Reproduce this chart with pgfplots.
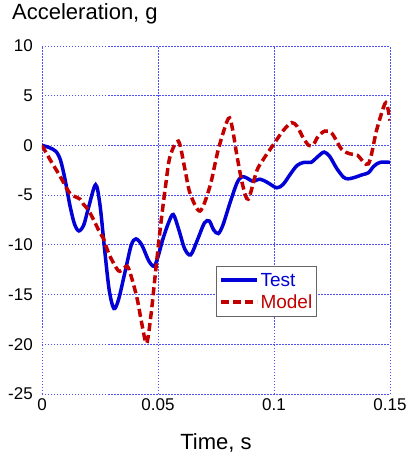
\documentclass[border=0pt]{standalone}
\usepackage{fontspec}
\setmainfont{Liberation Sans}
\usepackage{pgfplots}
\pgfplotsset{compat=1.18}

\definecolor{testblue}{RGB}{0,0,215}
\definecolor{modelred}{RGB}{195,0,0}
\definecolor{gridblue}{RGB}{80,80,245}

\begin{document}
\begin{tikzpicture}
\path[use as bounding box] (-42pt,-61pt) rectangle (365pt,394pt);
\begin{axis}[
    scale only axis,
    width=348pt, height=348pt,
    xmin=0, xmax=0.15, ymin=-25, ymax=10,
    xtick={0,0.05,0.1,0.15},
    ytick={-25,-20,...,10},
    scaled x ticks=false,
    axis line style={draw=none},
    major tick length=0pt,
    grid=major,
    major grid style={gridblue, line width=0.8pt, dash pattern=on 1.5pt off 1.5pt},
    /pgf/number format/assume math mode=true,
    ticklabel style={font=\fontsize{17}{20}\selectfont},
    xticklabel style={/pgf/number format/fixed, /pgf/number format/precision=2,
        inner sep=0pt, anchor=north, yshift=-4pt},
    yticklabel style={inner sep=0pt, anchor=east, xshift=-9pt},
    title={Acceleration, g},
    title style={at={(rel axis cs:0,1)}, anchor=base west, inner sep=0pt,
        xshift=-30pt, yshift=20pt, font=\fontsize{22}{26}\selectfont},
    xlabel={Time, s},
    xlabel style={at={(rel axis cs:0.5,0)}, anchor=base, inner sep=0pt,
        yshift=-55pt, font=\fontsize{22}{26}\selectfont},
    legend cell align=left,
    legend image code/.code={\draw[#1] (0pt,0pt) -- (36pt,0pt);},
    legend style={at={(rel axis cs:0.5,0.368)}, anchor=north west,
        draw=black!60, line width=1pt, fill=white,
        font=\fontsize{19}{22}\selectfont, inner xsep=3pt, inner ysep=5pt,
        nodes={inner sep=1.5pt}, row sep=4pt},
]
\addplot[testblue, line width=3.5pt, smooth, tension=0.5] coordinates {
(0,0) (0.003,-0.2) (0.006,-0.6) (0.008,-1.5) (0.010,-3.5) (0.012,-6.0)
(0.014,-7.9) (0.0159,-8.6) (0.018,-8.0) (0.020,-6.3) (0.0231,-3.95)
(0.025,-6.0) (0.027,-10.5) (0.029,-14.6) (0.031,-16.4) (0.033,-15.5)
(0.036,-12.5) (0.0385,-10) (0.0405,-9.4) (0.043,-10) (0.046,-11.6)
(0.0483,-12.15) (0.050,-11.2) (0.052,-9.5) (0.0545,-7.8) (0.0566,-6.95)
(0.059,-8.5) (0.0615,-10.4) (0.0641,-11.0) (0.067,-9.5) (0.070,-7.8)
(0.0721,-7.6) (0.074,-8.5) (0.076,-8.86) (0.078,-8.0) (0.081,-5.8)
(0.084,-3.8) (0.0861,-3.15) (0.0885,-3.3) (0.0908,-3.6) (0.094,-3.4)
(0.097,-3.7) (0.1012,-4.26) (0.104,-3.9) (0.107,-2.9) (0.110,-2.0)
(0.113,-1.7) (0.116,-1.7) (0.119,-1.1) (0.1216,-0.67) (0.124,-1.1)
(0.127,-2.3) (0.130,-3.2) (0.132,-3.36) (0.135,-3.2) (0.138,-2.95)
(0.1407,-2.75) (0.143,-2.1) (0.1457,-1.7) (0.150,-1.7)
};
\addlegendentry{\textcolor{testblue}{Test}}
\addplot[modelred, line width=3.5pt, dash pattern=on 8pt off 4pt, smooth, tension=0.5] coordinates {
(0,0) (0.0034,-1.4) (0.0078,-3.1) (0.012,-4.8) (0.0164,-5.4) (0.0178,-5.9)
(0.020,-6.5) (0.0225,-7.6) (0.025,-8.8) (0.0264,-9.3) (0.029,-11.0)
(0.0329,-12.6) (0.0352,-12.4) (0.0372,-12.3) (0.0408,-15.2) (0.043,-17.9)
(0.0451,-19.9) (0.047,-17.0) (0.049,-12.6) (0.051,-8.3) (0.0533,-4.0)
(0.0552,-1.1) (0.0588,0.43) (0.0616,-2.4) (0.0638,-4.8) (0.0681,-6.6)
(0.0724,-4.1) (0.076,-0.4) (0.0803,2.7) (0.082,1.8) (0.084,-1)
(0.0865,-4.0) (0.0889,-5.4) (0.0925,-2.6) (0.0954,-1.4) (0.0998,0.1)
(0.104,1.5) (0.1076,2.3) (0.110,1.9) (0.1125,0.8) (0.115,0) (0.117,0.1)
(0.119,0.9) (0.122,1.45) (0.125,1.2) (0.1292,-0.4) (0.1328,-0.85)
(0.136,-1.0) (0.1407,-1.85) (0.1443,1.6) (0.1478,4.2) (0.149,3.8) (0.150,2.5)
};
\addlegendentry{\textcolor{modelred}{Model}}
\end{axis}
\end{tikzpicture}
\end{document}
